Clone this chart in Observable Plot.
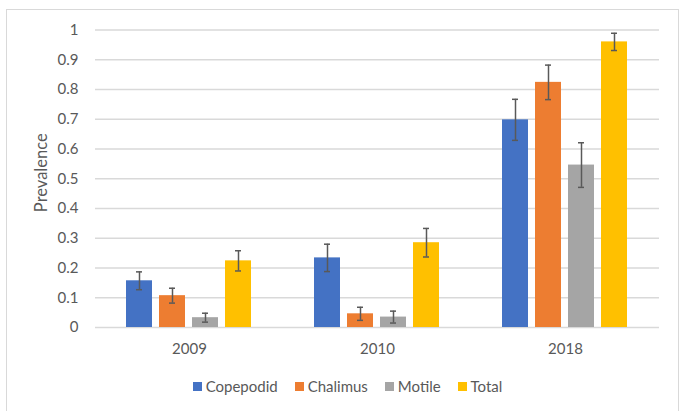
<!DOCTYPE html>
<html>
<head>
<meta charset="utf-8">
<script src="https://cdn.jsdelivr.net/npm/d3@7"></script>
<script src="https://cdn.jsdelivr.net/npm/@observablehq/plot@0.6"></script>
<style>
  body { margin: 0; background: #fff; font-family: Lato, "Open Sans", sans-serif; }
  #wrap { position: relative; width: 691px; height: 411px; overflow: hidden; }
  #frame { position: absolute; left: 6px; top: 9px; width: 673px; height: 420px; border: 1px solid #d9d9d9; box-sizing: border-box; }
  #chart { position: absolute; left: 0; top: 0; }
  #legend { position: absolute; left: 0; top: 377px; width: 691px; display: flex; justify-content: center; gap: 17px; font-size: 15px; color: #595959; padding-left: 2px; }
  #legend span.item { display: inline-flex; align-items: center; }
  #legend span.sw { width: 9px; height: 9px; display: inline-block; margin-right: 4px; }
</style>
</head>
<body>
<div id="wrap">
  <div id="frame"></div>
  <div id="chart"></div>
  <div id="legend"></div>
</div>
<script>
const years = ["2009", "2010", "2018"];
const stages = ["Copepodid", "Chalimus", "Motile", "Total"];
const colors = ["#4472C4", "#ED7D31", "#A5A5A5", "#FFC000"];
// prevalence per stage, in order of years
const copepodid = [0.157, 0.234, 0.698];
const chalimus  = [0.107, 0.046, 0.824];
const motile    = [0.033, 0.035, 0.546];
const total     = [0.224, 0.285, 0.960];
// error bar half-widths
const copepodidErr = [0.030, 0.046, 0.069];
const chalimusErr  = [0.025, 0.022, 0.058];
const motileErr    = [0.015, 0.020, 0.075];
const totalErr     = [0.034, 0.048, 0.029];
const yTicks = [0, 0.1, 0.2, 0.3, 0.4, 0.5, 0.6, 0.7, 0.8, 0.9, 1];

const series = [copepodid, chalimus, motile, total];
const errs = [copepodidErr, chalimusErr, motileErr, totalErr];
const data = [];
years.forEach((yr, i) => {
  stages.forEach((s, j) => {
    data.push({year: yr, stage: s, value: series[j][i], lo: series[j][i] - errs[j][i], hi: series[j][i] + errs[j][i]});
  });
});

const chart = Plot.plot({
  width: 691,
  height: 365,
  marginLeft: 94,
  marginRight: 32,
  marginTop: 29.5,
  marginBottom: 38,
  style: {fontFamily: "Lato, 'Open Sans', sans-serif", color: "#595959", background: "transparent"},
  fx: {domain: years, paddingInner: 0, paddingOuter: 0, label: null},
  x: {domain: stages, paddingInner: 0.206, paddingOuter: 0.873, axis: null},
  y: {domain: [0, 1], label: null},
  color: {domain: stages, range: colors},
  marks: [
    Plot.ruleY(yTicks, {y: d => d, stroke: "#d9d9d9", strokeWidth: 1.3}),
    Plot.axisY({ticks: yTicks, tickSize: 0, tickPadding: 17, fontSize: 15, tickFormat: d => String(+d.toFixed(1)), label: null}),
    Plot.text(["Prevalence"], {frameAnchor: "left", textAnchor: "middle", dx: -54, dy: -6, rotate: -90, fontSize: 16.5, fill: "#595959", facet: "super"}),
    Plot.axisFx({anchor: "bottom", tickSize: 0, tickPadding: 16, fontSize: 15, label: null}),
    Plot.barY(data, {fx: "year", x: "stage", y: "value", fill: "stage"}),
    Plot.ruleX(data, {fx: "year", x: "stage", y1: "lo", y2: "hi", stroke: "#595959", strokeWidth: 1.5}),
    Plot.tickY(data, {fx: "year", x: "stage", y: "lo", stroke: "#595959", strokeWidth: 1.5, insetLeft: 10, insetRight: 10}),
    Plot.tickY(data, {fx: "year", x: "stage", y: "hi", stroke: "#595959", strokeWidth: 1.5, insetLeft: 10, insetRight: 10})
  ]
});
document.getElementById("chart").appendChild(chart);

const legend = document.getElementById("legend");
stages.forEach((s, j) => {
  const item = document.createElement("span");
  item.className = "item";
  const sw = document.createElement("span");
  sw.className = "sw";
  sw.style.background = colors[j];
  item.appendChild(sw);
  item.appendChild(document.createTextNode(s));
  legend.appendChild(item);
});
</script>
</body>
</html>
